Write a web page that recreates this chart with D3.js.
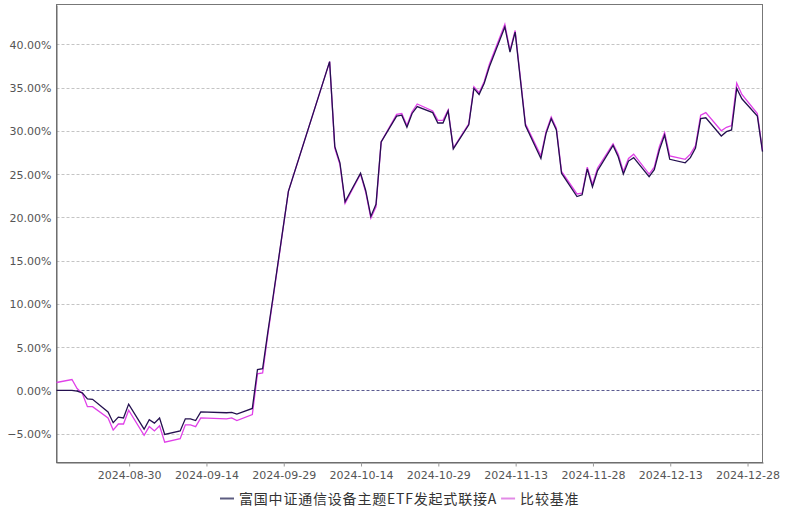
<!DOCTYPE html>
<html><head><meta charset="utf-8">
<script src="https://cdn.jsdelivr.net/npm/d3@7/dist/d3.min.js"></script>
<style>
html,body{margin:0;padding:0;background:#fff;}
svg{display:block;}
</style></head>
<body>
<svg id="chart" width="800" height="512"></svg>
<script>
const dates = ["2024-08-16","2024-08-19","2024-08-20","2024-08-21","2024-08-22","2024-08-23","2024-08-26","2024-08-27","2024-08-28","2024-08-29","2024-08-30",
"2024-09-02","2024-09-03","2024-09-04","2024-09-05","2024-09-06","2024-09-09","2024-09-10","2024-09-11","2024-09-12","2024-09-13",
"2024-09-18","2024-09-19","2024-09-20","2024-09-23","2024-09-24","2024-09-25","2024-09-26","2024-09-27","2024-09-30",
"2024-10-08","2024-10-09","2024-10-10","2024-10-11","2024-10-14","2024-10-15","2024-10-16","2024-10-17","2024-10-18",
"2024-10-21","2024-10-22","2024-10-23","2024-10-24","2024-10-25","2024-10-28","2024-10-29","2024-10-30","2024-10-31",
"2024-11-01","2024-11-04","2024-11-05","2024-11-06","2024-11-07","2024-11-08","2024-11-11","2024-11-12","2024-11-13","2024-11-14","2024-11-15",
"2024-11-18","2024-11-19","2024-11-20","2024-11-21","2024-11-22","2024-11-25","2024-11-26","2024-11-27","2024-11-28","2024-11-29",
"2024-12-02","2024-12-03","2024-12-04","2024-12-05","2024-12-06","2024-12-09","2024-12-10","2024-12-11","2024-12-12","2024-12-13",
"2024-12-16","2024-12-17","2024-12-18","2024-12-19","2024-12-20","2024-12-23","2024-12-24","2024-12-25","2024-12-26","2024-12-27","2024-12-30","2024-12-31"];

const fundValues = [0.00,0.00,-0.10,-0.30,-1.00,-1.05,-2.50,-3.75,-3.10,-3.20,-1.60,
-4.50,-3.40,-3.80,-3.20,-5.10,-4.70,-3.30,-3.30,-3.50,-2.50,
-2.60,-2.55,-2.75,-2.10,2.40,2.50,6.70,10.70,23.00,
38.00,28.20,26.30,21.80,25.10,23.10,20.10,21.50,28.70,
31.70,31.80,30.40,32.00,32.80,32.10,30.90,30.90,32.30,
27.90,30.70,34.90,34.20,35.50,37.40,42.00,39.10,41.40,36.00,30.60,
26.80,29.70,31.40,30.10,25.10,22.40,22.60,25.60,23.50,25.40,
28.30,27.00,25.00,26.50,26.90,24.70,25.50,27.80,29.50,26.70,
26.30,26.90,28.00,31.40,31.50,29.40,29.90,30.10,34.90,33.70,31.70,27.60];

const benchValues = [0.90,1.24,0.20,-0.35,-1.90,-1.90,-3.20,-4.60,-3.90,-3.90,-2.30,
-5.20,-4.20,-4.70,-4.10,-6.00,-5.60,-4.00,-4.00,-4.20,-3.20,
-3.30,-3.20,-3.50,-2.80,1.90,2.00,6.40,10.50,23.00,
38.00,28.00,26.10,21.60,25.00,22.90,19.90,21.20,28.70,
31.90,32.00,30.60,32.20,33.10,32.30,31.20,31.20,32.40,
28.00,30.80,35.10,34.40,35.70,37.70,42.30,39.30,41.60,36.20,30.80,
27.10,29.90,31.60,30.30,25.30,22.70,22.80,25.80,23.80,25.70,
28.50,27.30,25.30,26.80,27.30,25.00,25.80,28.20,29.80,27.10,
26.70,27.30,28.30,31.80,32.10,30.00,30.40,30.60,35.50,34.20,32.00,27.70];

const xTickLabels = ["2024-08-30","2024-09-14","2024-09-29","2024-10-14","2024-10-29","2024-11-13","2024-11-28","2024-12-13","2024-12-28"];
const yTickValues = [-5,0,5,10,15,20,25,30,35,40];
const seriesNames = ["富国中证通信设备主题ETF发起式联接A","比较基准"];

(function(){
const parse = d3.timeParse("%Y-%m-%d");
const fundData = dates.map((d,i)=>({date:parse(d), v:fundValues[i]}));
const benchData = dates.map((d,i)=>({date:parse(d), v:benchValues[i]}));

const pL=56.5, pR=762.5, pT=4.5, pB=462.5;
const svg = d3.select("#chart");

const x = d3.scaleTime().domain([parse("2024-08-16"), parse("2024-12-31")]).range([pL, pR]);
const y = d3.scaleLinear().domain([-8.35, 44.6]).range([pB, pT]);

const grid = svg.append("g");
grid.selectAll("line").data(yTickValues.filter(v=>v!==0)).join("line")
  .attr("x1", pL).attr("x2", pR)
  .attr("y1", d=>Math.round(y(d))+0.5).attr("y2", d=>Math.round(y(d))+0.5)
  .attr("stroke", "#c4c4c4").attr("stroke-width", 1).attr("stroke-dasharray", "3,2");
grid.append("line")
  .attr("x1", pL).attr("x2", pR)
  .attr("y1", Math.round(y(0))+0.5).attr("y2", Math.round(y(0))+0.5)
  .attr("stroke", "#5a5a90").attr("stroke-width", 1).attr("stroke-dasharray", "3,2");

svg.append("rect").attr("x", pL).attr("y", pT).attr("width", pR-pL).attr("height", pB-pT)
  .attr("fill", "none").attr("stroke", "#777").attr("stroke-width", 1);

const yAxis = d3.axisLeft(y).tickValues(yTickValues).tickSize(0).tickPadding(5)
  .tickFormat(d=>d3.format(".2f")(d)+"%");
const gy = svg.append("g").attr("transform", `translate(${pL},0.5)`).call(yAxis);
gy.select(".domain").attr("stroke", "#666");
gy.selectAll("text").attr("fill", "#555").style("font-family", "DejaVu Sans, sans-serif").style("font-size", "11px");

const xAxis = d3.axisBottom(x).tickValues(xTickLabels.map(parse)).tickSizeInner(4).tickSizeOuter(0).tickPadding(5)
  .tickFormat(d3.timeFormat("%Y-%m-%d"));
const gx = svg.append("g").attr("transform", `translate(0.5,${pB})`).call(xAxis);
gx.select(".domain").attr("stroke", "#666");
gx.selectAll(".tick line").attr("stroke", "#999");
gx.selectAll("text").attr("fill", "#555").style("font-family", "DejaVu Sans, sans-serif").style("font-size", "11px");

const line = d3.line().x(d=>x(d.date)).y(d=>y(d.v));
svg.append("path").datum(benchData).attr("d", line)
  .attr("fill", "none").attr("stroke", "#e040e8").attr("stroke-width", 1.3);
svg.append("path").datum(fundData).attr("d", line)
  .attr("fill", "none").attr("stroke", "#24104f").attr("stroke-width", 1.3);

const legendColors = ["#5c5c80","#e28ae6"];
const lg = svg.append("g").style("font-family", "'Noto Sans CJK SC', sans-serif").style("font-size", "14px").style("letter-spacing", "0.8px");
let lx = 220;
seriesNames.forEach((name,i)=>{
  lg.append("line").attr("x1", lx).attr("x2", lx+14).attr("y1", 498.5).attr("y2", 498.5)
    .attr("stroke", legendColors[i]).attr("stroke-width", 2);
  const t = lg.append("text").attr("x", lx+19).attr("y", 503.5).attr("fill", "#333").text(name);
  lx += 19 + t.node().getComputedTextLength() + 4;
});
})();
</script>
</body></html>
